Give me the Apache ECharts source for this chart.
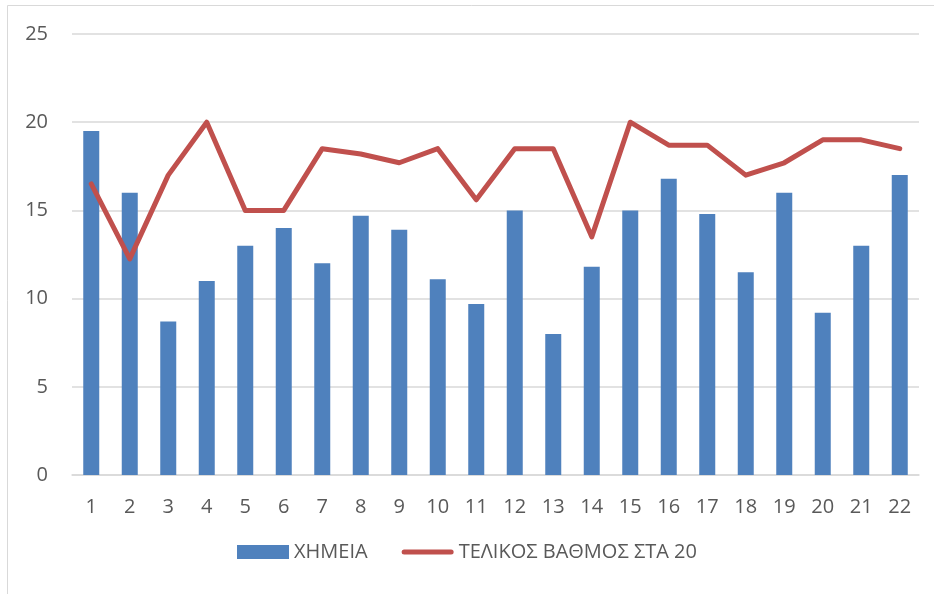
<!DOCTYPE html>
<html>
<head>
<meta charset="utf-8">
<script src="https://cdn.jsdelivr.net/npm/echarts@6/dist/echarts.min.js"></script>
<style>
html, body { margin: 0; padding: 0; background: #fff; }
#chart { width: 934px; height: 594px; }
</style>
</head>
<body>
<div id="chart"></div>
<script>
var categories = ['1','2','3','4','5','6','7','8','9','10','11','12','13','14','15','16','17','18','19','20','21','22'];
var chemistry = [19.5, 16, 8.7, 11, 13, 14, 12, 14.7, 13.9, 11.1, 9.7, 15, 8, 11.8, 15, 16.8, 14.8, 11.5, 16, 9.2, 13, 17];
var finalGrade = [16.5, 12.25, 17, 20, 15, 15, 18.5, 18.2, 17.7, 18.5, 15.6, 18.5, 18.5, 13.5, 20, 18.7, 18.7, 17, 17.7, 19, 19, 18.5];
var yTicks = { min: 0, max: 25, interval: 5 };

var textColor = '#595959';
var font = '"Open Sans", "Liberation Sans", sans-serif';

var myChart = echarts.init(document.getElementById('chart'));
var option = {
    animation: false,
    backgroundColor: '#fff',
    graphic: [{
        type: 'rect',
        shape: { x: 7.5, y: 5.5, width: 960, height: 620 },
        style: { fill: 'none', stroke: '#d9d9d9', lineWidth: 1 },
        silent: true
    }],
    grid: { left: 72, right: 15, top: 34, bottom: 119 },
    legend: {
        bottom: 27,
        left: 'center',
        itemWidth: 52,
        itemHeight: 14,
        itemGap: 34,
        textStyle: { color: textColor, fontSize: 20, fontFamily: font },
        data: [
            { name: 'ΧΗΜΕΙΑ', icon: 'rect' },
            { name: 'ΤΕΛΙΚΟΣ ΒΑΘΜΟΣ ΣΤΑ 20', icon: 'path://M2.5,0H49.5A2.5,2.5,0,0,1,49.5,5H2.5A2.5,2.5,0,0,1,2.5,0Z' }
        ]
    },
    xAxis: {
        type: 'category',
        data: categories,
        axisLine: { lineStyle: { color: '#d9d9d9', width: 1.5 } },
        axisTick: { show: false },
        axisLabel: { color: textColor, fontSize: 20, fontFamily: font, margin: 22 }
    },
    yAxis: {
        type: 'value',
        min: yTicks.min,
        max: yTicks.max,
        interval: yTicks.interval,
        axisLine: { show: false },
        axisTick: { show: false },
        splitLine: { lineStyle: { color: '#d9d9d9', width: 1.5 } },
        axisLabel: { color: textColor, fontSize: 20, fontFamily: font, margin: 24 }
    },
    series: [{
        name: 'ΧΗΜΕΙΑ',
        type: 'bar',
        data: chemistry,
        barWidth: 16,
        itemStyle: { color: '#4f81bd' }
    }, {
        name: 'ΤΕΛΙΚΟΣ ΒΑΘΜΟΣ ΣΤΑ 20',
        type: 'line',
        data: finalGrade,
        symbol: 'none',
        lineStyle: { color: '#c0504d', width: 5, cap: 'round', join: 'round' },
        itemStyle: { color: '#c0504d' }
    }]
};
myChart.setOption(option);
</script>
</body>
</html>
